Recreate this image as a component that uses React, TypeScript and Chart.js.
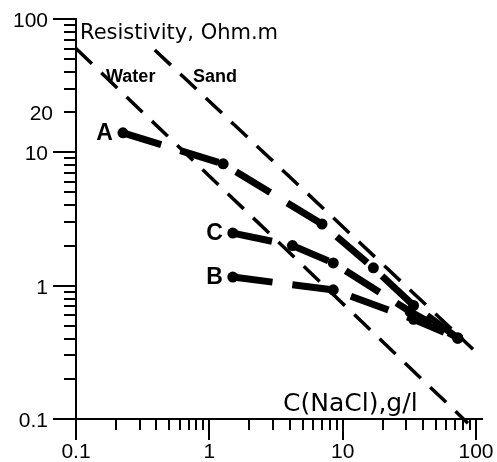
import React, { useEffect, useRef } from 'react';
import { Chart, registerables } from 'chart.js';
Chart.register(...registerables);

// Reference lines (log-log)
const WATER_C = [0.1, 87];
const WATER_R = [60, 0.093];
const SAND_C = [0.39, 95];
const SAND_R = [58.5, 0.334];

// Measured series
const A_C = [0.225, 1.27, 7.0, 17, 34, 73];
const A_R = [14, 8.2, 2.9, 1.36, 0.71, 0.405];
const B_C = [1.5, 8.5, 34, 73];
const B_R = [1.16, 0.93, 0.56, 0.405];
const C_C = [1.5, 4.2, 8.5, 32, 73];
const C_R = [2.48, 2.0, 1.48, 0.64, 0.405];

// Axis ticks
const X_MAJOR = [0.1, 1, 10, 100];
const X_LABELS = ['0.1', '1', '10', '100'];
const X_MINOR = [0.2, 0.3, 0.4, 0.5, 0.6, 0.7, 0.8, 0.9, 2, 3, 4, 5, 6, 7, 8, 9, 20, 30, 40, 50, 60, 70, 80, 90];
const Y_MAJOR = [0.1, 1, 10, 100];
const Y_MINOR = [0.2, 0.3, 0.4, 0.5, 0.6, 0.7, 0.8, 0.9, 2, 3, 4, 5, 6, 7, 8, 9, 20, 30, 40, 50, 60, 70, 80, 90];
const Y_LABEL_VALUES = [0.1, 1, 10, 20, 100];
const Y_LABELS = ['0.1', '1', '10', '20', '100'];

const Y_TITLE = 'Resistivity, Ohm.m';
const X_TITLE = 'C(NaCl),g/l';
const SERIES_NAMES = ['A', 'B', 'C'];
const LINE_NAMES = ['Water', 'Sand'];

const pts = (xs: number[], ys: number[]) => xs.map((x, i) => ({ x, y: ys[i] }));

const TICK_FONT = '21px "Liberation Sans", Arial, sans-serif';
const TITLE_FONT_Y = '21px "DejaVu Sans", sans-serif';
const TITLE_FONT_X = '25px "DejaVu Sans", sans-serif';
const NOTE_FONT = 'bold 18px "Liberation Sans", Arial, sans-serif';
const SERIES_FONT = 'bold 23px "Liberation Sans", Arial, sans-serif';

const axesPlugin = {
  id: 'customAxes',
  beforeDatasetsDraw(chart: any) {
    const ctx = chart.ctx as CanvasRenderingContext2D;
    const xs = chart.scales.x;
    const ys = chart.scales.y;
    const { left, right, top, bottom } = chart.chartArea;
    ctx.save();
    ctx.strokeStyle = '#000';
    ctx.lineWidth = 2;
    ctx.lineCap = 'butt';
    ctx.beginPath();
    ctx.moveTo(left, top - 1);
    ctx.lineTo(left, bottom + 1);
    ctx.moveTo(left - 1, bottom);
    ctx.lineTo(right + 7, bottom);
    for (const v of X_MAJOR) {
      const px = Math.round(xs.getPixelForValue(v));
      ctx.moveTo(px, bottom);
      ctx.lineTo(px, bottom + 21);
    }
    for (const v of X_MINOR) {
      const px = Math.round(xs.getPixelForValue(v));
      ctx.moveTo(px, bottom);
      ctx.lineTo(px, bottom + 11);
    }
    for (const v of Y_MAJOR) {
      const py = Math.round(ys.getPixelForValue(v));
      ctx.moveTo(left - 23, py);
      ctx.lineTo(left, py);
    }
    for (const v of Y_MINOR) {
      const py = Math.round(ys.getPixelForValue(v));
      ctx.moveTo(left - 12, py);
      ctx.lineTo(left, py);
    }
    ctx.stroke();

    ctx.fillStyle = '#000';
    ctx.font = TICK_FONT;
    ctx.textAlign = 'center';
    ctx.textBaseline = 'alphabetic';
    X_MAJOR.forEach((v, i) => {
      ctx.fillText(X_LABELS[i], xs.getPixelForValue(v), bottom + 39);
    });
    ctx.textAlign = 'right';
    Y_LABEL_VALUES.forEach((v, i) => {
      const major = Y_MAJOR.includes(v);
      ctx.fillText(Y_LABELS[i], left - (major ? 28 : 23), ys.getPixelForValue(v) + 8);
    });

    ctx.textAlign = 'left';
    ctx.font = TITLE_FONT_Y;
    ctx.fillText(Y_TITLE, left + 4, top + 20);
    ctx.font = TITLE_FONT_X;
    ctx.fillText(X_TITLE, xs.getPixelForValue(3.57), bottom - 8);
    ctx.restore();
  },
  afterDatasetsDraw(chart: any) {
    const ctx = chart.ctx as CanvasRenderingContext2D;
    const xs = chart.scales.x;
    const ys = chart.scales.y;
    ctx.save();
    ctx.fillStyle = '#000';
    ctx.font = NOTE_FONT;
    ctx.textAlign = 'left';
    ctx.textBaseline = 'alphabetic';
    ctx.fillText(LINE_NAMES[0], xs.getPixelForValue(0.168), ys.getPixelForValue(33.7));
    ctx.fillText(LINE_NAMES[1], xs.getPixelForValue(0.755), ys.getPixelForValue(33.7));
    ctx.font = SERIES_FONT;
    ctx.textAlign = 'right';
    const firsts = [
      [A_C[0], A_R[0]],
      [B_C[0], B_R[0]],
      [C_C[0], C_R[0]],
    ];
    firsts.forEach(([c, r], i) => {
      ctx.fillText(SERIES_NAMES[i], xs.getPixelForValue(c) - 10, ys.getPixelForValue(r) + 7);
    });
    ctx.restore();
  },
};

export default function App() {
  const ref = useRef<HTMLCanvasElement>(null);
  useEffect(() => {
    document.body.style.margin = '0';
    document.body.style.overflow = 'hidden';
    const refLine = {
      showLine: true,
      borderColor: '#000',
      backgroundColor: '#000',
      borderWidth: 3.5,
      borderDash: [22, 13],
      pointRadius: 0,
      clip: false as any,
    };
    const seriesLine = {
      showLine: true,
      borderColor: '#000',
      backgroundColor: '#000',
      borderWidth: 7,
      borderDash: [40, 20],
      pointRadius: 5.5,
      pointBorderWidth: 0,
      pointBackgroundColor: '#000',
      clip: false as any,
    };
    const chart = new Chart(ref.current!, {
      type: 'scatter',
      data: {
        datasets: [
          { label: LINE_NAMES[0], data: pts(WATER_C, WATER_R), ...refLine },
          { label: LINE_NAMES[1], data: pts(SAND_C, SAND_R), ...refLine },
          { label: SERIES_NAMES[0], data: pts(A_C, A_R), ...seriesLine },
          { label: SERIES_NAMES[1], data: pts(B_C, B_R), ...seriesLine },
          { label: SERIES_NAMES[2], data: pts(C_C, C_R), ...seriesLine },
        ],
      },
      options: {
        responsive: false,
        animation: false,
        events: [],
        layout: { padding: { left: 76, top: 19, right: 21, bottom: 43 } },
        scales: {
          x: { type: 'logarithmic', min: 0.1, max: 100, display: false },
          y: { type: 'logarithmic', min: 0.1, max: 100, display: false },
        },
        plugins: { legend: { display: false }, tooltip: { enabled: false } },
      },
      plugins: [axesPlugin],
    });
    return () => chart.destroy();
  }, []);
  return <canvas ref={ref} width={497} height={462} style={{ display: 'block' }} />;
}
